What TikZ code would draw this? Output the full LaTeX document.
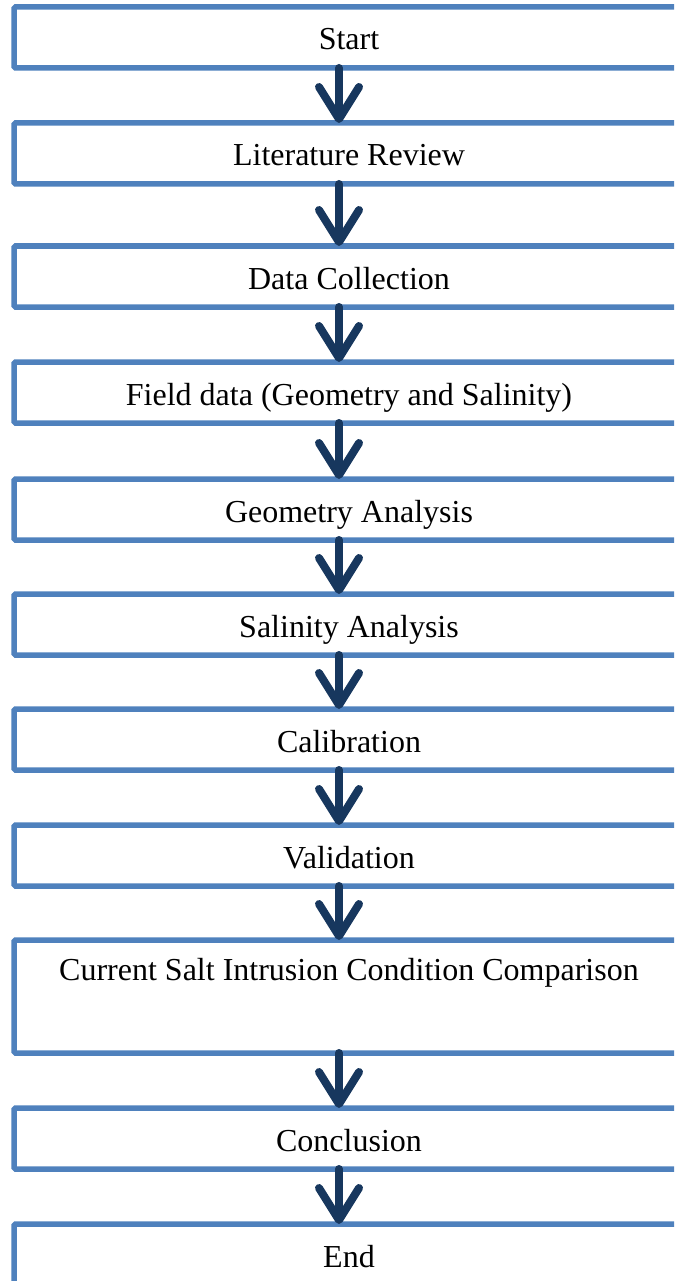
\documentclass[tikz,border=0pt]{standalone}
\usepackage{fontspec}
\setmainfont{Liberation Serif}
\usetikzlibrary{arrows.meta}
\definecolor{boxblue}{HTML}{4F81BD}
\definecolor{arrownavy}{HTML}{17375E}
\begin{document}
\begin{tikzpicture}[x=1pt,y=-1pt,
  stepbox/.style={draw=boxblue, line width=5.5pt, rounded corners=1.5pt,
    minimum width=670pt, minimum height=61pt, inner sep=0pt, outer sep=0pt,
    font=\fontsize{32}{38}\selectfont, text height=27pt, text depth=2pt},
  flow/.style={draw=arrownavy, line width=8pt, line cap=round,
    -{Straight Barb[round, length={32pt 0}, width={40pt 0}]}}]
\useasboundingbox (0,0) rectangle (674,1281);
\clip (0,0) rectangle (674,1281);
\node[stepbox] (b1) at (349,37.5) {Start};
\node[stepbox] (b2) at (349,153.5) {Literature Review};
\node[stepbox] (b3) at (349,276.5) {Data Collection};
\node[stepbox] (b4) at (349,392.5) {Field data (Geometry and Salinity)};
\node[stepbox] (b5) at (349,509.5) {Geometry Analysis};
\node[stepbox] (b6) at (349,624.5) {Salinity Analysis};
\node[stepbox] (b7) at (349,739.5) {Calibration};
\node[stepbox] (b8) at (349,855.5) {Validation};
\node[stepbox, minimum height=113pt, text depth=60pt] (b9) at (349,996.5) {Current Salt Intrusion Condition Comparison};
\node[stepbox] (b10) at (349,1138.5) {Conclusion};
\node[stepbox] (b11) at (349,1254.5) {End};
\foreach \a/\b in {b1/b2,b2/b3,b3/b4,b4/b5,b5/b6,b6/b7,b7/b8,b8/b9,b9/b10,b10/b11}
  \draw[flow] ([xshift=-10pt]\a.south) -- ([xshift=-10pt]\b.north);
\end{tikzpicture}
\end{document}
